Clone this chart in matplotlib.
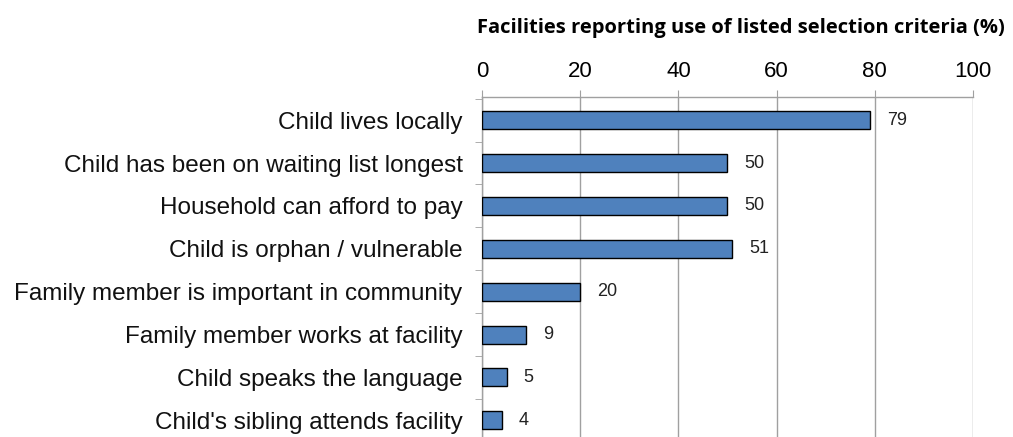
import numpy as np
import matplotlib.pyplot as plt
from matplotlib.ticker import FixedLocator

# share of facilities (%) reporting each selection criterion
criteria = [
    'Child lives locally',
    'Child has been on waiting list longest',
    'Household can afford to pay',
    'Child is orphan / vulnerable',
    'Family member is important in community',
    'Family member works at facility',
    'Child speaks the language',
    "Child's sibling attends facility",
]
percent = [79, 50, 50, 51, 20, 9, 5, 4]
x_ticks = [0, 20, 40, 60, 80, 100]

bar_color = '#4F81BD'
grey = '#a0a0a0'

plt.rcParams['font.family'] = ['Liberation Sans', 'DejaVu Sans']
fig = plt.figure(figsize=(10.13, 4.37), dpi=100)
ax = fig.add_axes([0.4758, 0.0, 0.4847, 0.778])

y_pos = np.arange(len(criteria))
ax.barh(y_pos, percent, height=0.42, color=bar_color, edgecolor='black',
        linewidth=1.0, zorder=3)

for y, v in zip(y_pos, percent):
    ax.text(v + 3.5, y, str(v), va='center', ha='left', fontsize=13,
            color='#222222')

ax.set_xlim(0, 100)
ax.set_ylim(7.39, -0.54)
ax.xaxis.tick_top()
ax.set_xticks(x_ticks)
ax.tick_params(axis='x', which='major', length=5, color=grey, labelsize=16,
               pad=6)
ax.xaxis.grid(True, color=grey, linewidth=1.0, zorder=0)

ax.set_yticks(y_pos)
ax.set_yticklabels(criteria, fontsize=17.5, color='#111111')
ax.yaxis.set_minor_locator(FixedLocator(np.arange(-0.5, len(criteria), 1.0)))
ax.tick_params(axis='y', which='major', length=0, pad=14)
ax.tick_params(axis='y', which='minor', length=5, color=grey)

for side in ['bottom', 'right']:
    ax.spines[side].set_visible(False)
for side in ['top', 'left']:
    ax.spines[side].set_color(grey)
    ax.spines[side].set_linewidth(1.0)

fig.text(0.992, 0.935, 'Facilities reporting use of listed selection criteria (%)',
         ha='right', va='center', fontsize=14.5, fontweight='bold',
         family=['Open Sans', 'DejaVu Sans'])

fig.savefig('out.png', dpi=100)
